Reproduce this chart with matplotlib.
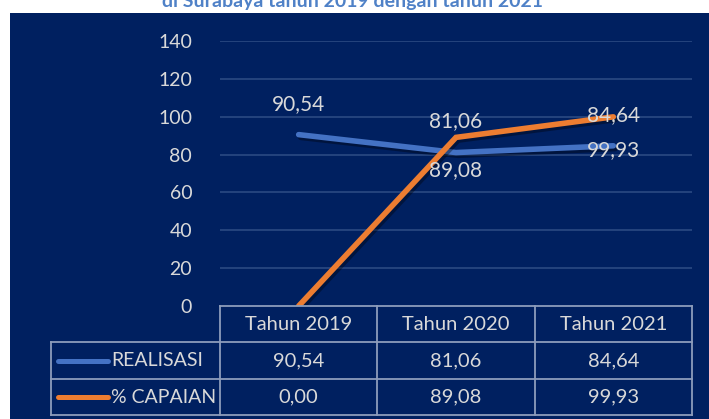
import matplotlib.pyplot as plt
import matplotlib.patheffects as pe
from matplotlib.patches import Rectangle
from matplotlib.lines import Line2D

plt.rcParams['font.family'] = ['Lato', 'DejaVu Sans']

years = ['Tahun 2019', 'Tahun 2020', 'Tahun 2021']
series_names = ['REALISASI', '% CAPAIAN']
realisasi = [90.54, 81.06, 84.64]
capaian = [0.00, 89.08, 99.93]
yticks = [0, 20, 40, 60, 80, 100, 120, 140]
title = 'di Surabaya tahun 2019 dengan tahun 2021'

BG = '#002060'
BLUE = '#4472C4'
ORANGE = '#ED7D31'
TXT = '#D9D9D9'
BORDER = '#8D9DBB'
GRID = '#2B4A82'

W, H = 709, 419
fig = plt.figure(figsize=(W / 100, H / 100), dpi=100)
fig.patch.set_facecolor('white')


def fx(px):
    return px / W


def fy(py):
    return 1 - py / H


# dark panel
fig.patches.append(Rectangle((fx(10), 0), 1 - fx(10), fy(13), transform=fig.transFigure,
                             facecolor=BG, edgecolor='none', zorder=-10))

# title (cut off at the top like the reference)
fig.text(fx(353), fy(7), title, ha='center', va='baseline', fontsize=14,
         fontweight='bold', color='#4F81C7')

ax = fig.add_axes([fx(220), fy(306), fx(692) - fx(220), fy(41) - fy(306)])
ax.set_facecolor('none')
ax.set_xlim(-0.5, len(years) - 0.5)
ax.set_ylim(0, 140)
ax.set_yticks(yticks)
ax.set_yticklabels([str(v) for v in yticks])
ax.tick_params(axis='y', length=0, pad=20, labelsize=14, labelcolor=TXT)
ax.tick_params(axis='x', length=0, labelbottom=False)
for s in ax.spines.values():
    s.set_visible(False)
for v in yticks[1:]:
    ax.axhline(v, color=GRID, lw=1.2, zorder=1)

x = list(range(len(years)))
shadow = [pe.SimpleLineShadow(offset=(1.5, -2), shadow_color='black', alpha=0.35), pe.Normal()]
ax.plot(x, realisasi, color=BLUE, lw=4, solid_capstyle='round', solid_joinstyle='miter',
        path_effects=shadow, zorder=3)
ax.plot(x, capaian, color=ORANGE, lw=4, solid_capstyle='round', solid_joinstyle='miter',
        path_effects=shadow, zorder=4)

fmt = lambda v: f'{v:.2f}'.replace('.', ',')
for xi, v in zip(x, realisasi):
    ax.annotate(fmt(v), (xi, v), xytext=(0, 31), textcoords='offset pixels',
                ha='center', va='center', fontsize=15, color=TXT, zorder=5)
for xi, v in zip(x, capaian):
    if v <= 0:
        continue  # label falls behind the data table in the reference
    ax.annotate(fmt(v), (xi, v), xytext=(0, -33), textcoords='offset pixels',
                ha='center', va='center', fontsize=15, color=TXT, zorder=5)

# data table
col_edges = [220, 377, 535, 692]
row_edges = [306, 342, 379, 415]
lw = 1.3


def hline(x0, x1, y):
    fig.add_artist(Line2D([fx(x0), fx(x1)], [fy(y), fy(y)], color=BORDER, lw=lw))


def vline(x, y0, y1):
    fig.add_artist(Line2D([fx(x), fx(x)], [fy(y0), fy(y1)], color=BORDER, lw=lw))


hline(220, 692, 306)
for y in row_edges[1:]:
    hline(51, 692, y)
for xe in col_edges:
    vline(xe, 306, 415)
vline(51, 342, 415)

for i, yr in enumerate(years):
    cx = (col_edges[i] + col_edges[i + 1]) / 2
    fig.text(fx(cx), fy((row_edges[0] + row_edges[1]) / 2), yr, ha='center', va='center',
             fontsize=14.5, color=TXT)
rows = [realisasi, capaian]
colors = [BLUE, ORANGE]
for r, (name, vals, c) in enumerate(zip(series_names, rows, colors)):
    cy = (row_edges[r + 1] + row_edges[r + 2]) / 2
    fig.add_artist(Line2D([fx(58), fx(108)], [fy(cy), fy(cy)], color=c, lw=3.6,
                          solid_capstyle='round'))
    fig.text(fx(111), fy(cy), name, ha='left', va='center', fontsize=14, color=TXT)
    for i, v in enumerate(vals):
        cx = (col_edges[i] + col_edges[i + 1]) / 2
        fig.text(fx(cx), fy(cy), fmt(v), ha='center', va='center', fontsize=14.5, color=TXT)

fig.savefig('out.png', dpi=100, facecolor='white')
